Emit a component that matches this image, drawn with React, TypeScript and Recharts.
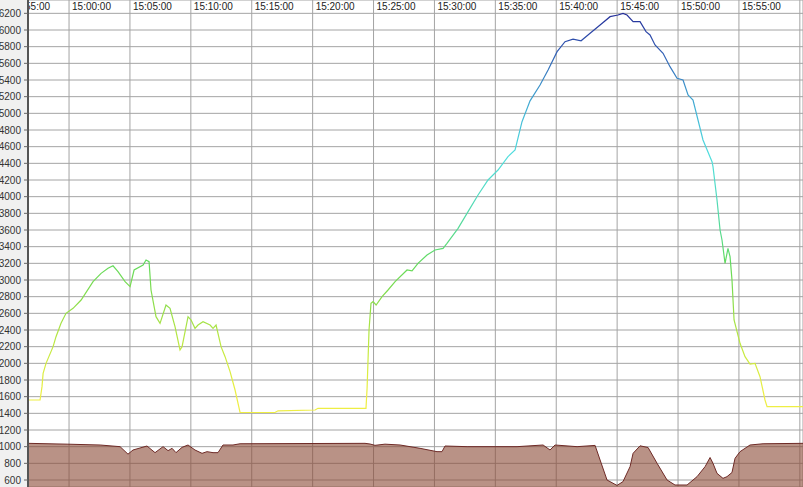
import React from "react"
import { ComposedChart, Line, Area, XAxis, YAxis, CartesianGrid } from "recharts"

// minutes after 15:00
const altTime = [
  -3.37, -3.36, -2.38, -2.22, -2.13, -1.89, -1.31, -1.07, -0.66, -0.25, 0.33, 0.99, 1.97, 2.63, 3.2, 3.61,
  4.02, 4.6, 5.01, 5.34, 6.08, 6.32, 6.57, 6.73, 7.14, 7.47, 7.96, 8.29, 8.7, 9.11, 9.28, 9.77, 10.02,
  10.34, 10.59, 11.0, 11.58, 11.82, 12.07, 12.48, 12.81, 13.22, 13.63, 14.04, 16.91, 17.16, 20.2, 20.44,
  24.38, 24.47, 24.63, 24.79, 24.96, 25.21, 25.7, 26.19, 26.77, 27.75, 28.16, 28.65, 29.39, 30.05, 30.71,
  31.03, 31.94, 32.76, 33.58, 34.4, 35.22, 36.04, 36.62, 37.19, 37.85, 38.67, 39.33, 40.07, 40.72, 41.38,
  42.04, 42.78, 43.6, 44.42, 45.07, 45.48, 45.81, 46.31, 46.88, 47.37, 47.7, 48.11, 48.77, 49.34, 49.92,
  50.41, 50.82, 51.23, 52.05, 52.79, 52.87, 53.2, 53.45, 53.61, 53.86, 54.1, 54.27, 54.43, 54.6, 55.09,
  55.5, 55.91, 56.32, 56.73, 57.14, 57.31, 60.26,
]
const altValue = [
  500, 1560, 1560, 1720, 1880, 2000, 2200, 2320, 2480, 2600, 2660, 2760, 2980, 3080, 3140, 3170,
  3100, 2980, 2920, 3120, 3180, 3240, 3220, 2880, 2560, 2480, 2700, 2660, 2440, 2160, 2200, 2560, 2520,
  2420, 2460, 2500, 2460, 2420, 2460, 2200, 2080, 1900, 1680, 1410, 1410, 1430, 1440, 1460,
  1460, 1700, 2400, 2720, 2740, 2700, 2800, 2880, 2980, 3120, 3110, 3200, 3300, 3360, 3380,
  3440, 3620, 3820, 4020, 4200, 4320, 4480, 4560, 4900, 5150, 5340, 5520, 5740, 5860, 5890,
  5870, 5960, 6060, 6160, 6180, 6200, 6180, 6100, 6100, 5980, 5940, 5820, 5720, 5560, 5420,
  5400, 5220, 5160, 4680, 4420, 4360, 3960, 3600, 3480, 3200, 3380, 3280, 3000, 2520, 2240,
  2080, 1990, 2000, 1840, 1560, 1480, 1480,
]

const gndTime = [
  -3.37, -0.16, 2.55, 4.19, 4.84, 5.25, 6.4, 7.06, 7.72, 8.13, 8.46, 8.78, 9.28, 9.77, 10.34, 10.92,
  11.33, 11.82, 12.23, 12.64, 13.46, 14.04, 24.3, 24.71, 25.12, 25.94, 27.18, 28.82, 30.21, 30.62, 30.87,
  32.68, 34.81, 36.78, 38.92, 39.49, 39.9, 41.71, 43.19, 43.6, 44.17, 44.99, 45.48, 46.06, 46.31, 46.88,
  47.54, 48.28, 49.1, 49.75, 50.74, 51.56, 52.22, 52.63, 52.87, 53.2, 53.69, 54.02, 54.43, 54.68, 55.09,
  55.91, 56.98, 60.26,
]
const gndValue = [
  1040, 1030, 1020, 1000, 910, 960, 1008, 928, 1000, 952, 980, 928, 992, 1020, 960, 920,
  940, 928, 928, 1020, 1020, 1035, 1040, 1032, 1016, 1030, 1020, 980, 940, 940, 1008,
  1000, 1000, 1000, 1020, 960, 1020, 1000, 1015, 840, 600, 535, 580, 760, 920, 1010,
  990, 800, 600, 540, 540, 640, 760, 870, 800, 680, 620, 640, 690, 860, 940,
  1020, 1035, 1040,
]

const xTicks = [0, 5, 10, 15, 20, 25, 30, 35, 40, 45, 50, 55, 60]
const xLabelTicks = [-5, 0, 5, 10, 15, 20, 25, 30, 35, 40, 45, 50, 55]
const yTicks = [600, 800, 1000, 1200, 1400, 1600, 1800, 2000, 2200, 2400, 2600, 2800, 3000, 3200, 3400,
  3600, 3800, 4000, 4200, 4400, 4600, 4800, 5000, 5200, 5400, 5600, 5800, 6000, 6200]

// colour of the altitude line by value
const colorStops: [number, string][] = [
  [1600, "#eeee44"],
  [2000, "#d2ec40"],
  [2400, "#aee444"],
  [2800, "#84dc4c"],
  [3200, "#62da5c"],
  [3600, "#56da92"],
  [4000, "#52dabe"],
  [4500, "#50dede"],
  [5000, "#44b6d6"],
  [5400, "#3a88c6"],
  [5800, "#3056b0"],
  [6200, "#26309a"],
]

const altData = altTime.map((t, i) => ({ t, v: altValue[i] }))
const gndData = gndTime.map((t, i) => ({ t, v: gndValue[i] }))

const vMax = Math.max(...altValue)
const vMin = Math.min(...altValue)
const xDomain = [-3.37, 60.26]

const fmtTime = (m: number) => {
  const total = 15 * 60 + m
  const h = Math.floor(total / 60)
  const mm = total % 60
  return `${h}:${String(mm).padStart(2, "0")}:00`
}

const font = "'Liberation Sans Narrow', 'Liberation Sans', Arial, sans-serif"

const TopTick = (props: any) => {
  const { x, payload } = props
  return (
    <text x={x + 3} y={10} fontSize={10} fontFamily={font} fill="#222" clipPath="url(#plotClip)">
      {fmtTime(payload.value)}
    </text>
  )
}

export default function App() {
  return (
    <div style={{ position: "absolute", left: 0, top: 0, width: 803, height: 487, background: "#f0f0f0" }}>
      <ComposedChart width={803} height={487} margin={{ top: -1, right: 0, bottom: 0, left: 0 }}>
        <defs>
          <linearGradient id="altGrad" x1="0" y1="0" x2="0" y2="1">
            {[...colorStops].reverse().map(([v, c]) => (
              <stop key={v} offset={(vMax - v) / (vMax - vMin)} stopColor={c} />
            ))}
          </linearGradient>
          <clipPath id="plotClip">
            <rect x={29} y={0} width={774} height={487} />
          </clipPath>
        </defs>
        <CartesianGrid stroke="#a4a4a4" fill="#ffffff" />
        <XAxis
          xAxisId={0}
          type="number"
          dataKey="t"
          domain={xDomain}
          ticks={xTicks}
          orientation="top"
          height={0}
          hide
          allowDataOverflow
        />
        <XAxis
          xAxisId="labels"
          type="number"
          dataKey="t"
          domain={xDomain}
          ticks={xLabelTicks}
          interval={0}
          orientation="top"
          height={1}
          axisLine={false}
          tickLine={false}
          tick={TopTick}
          allowDataOverflow
        />
        <YAxis
          type="number"
          domain={[516, 6360]}
          ticks={yTicks}
          interval={0}
          width={28}
          allowDataOverflow
          axisLine={{ stroke: "#555", strokeWidth: 2 }}
          tickLine={{ stroke: "#666" }}
          tickSize={4}
          tickMargin={3}
          tick={{ fontSize: 10, fontFamily: font, fill: "#333" }}
        />
        <Area
          xAxisId="labels"
          data={gndData}
          dataKey="v"
          type="linear"
          stroke="#6e2a26"
          strokeWidth={1}
          fill="#8b4a36"
          fillOpacity={0.6}
          isAnimationActive={false}
          dot={false}
          activeDot={false}
        />
        <Line
          data={altData}
          dataKey="v"
          type="linear"
          stroke="url(#altGrad)"
          strokeWidth={1.2}
          dot={false}
          activeDot={false}
          isAnimationActive={false}
        />
      </ComposedChart>
    </div>
  )
}
